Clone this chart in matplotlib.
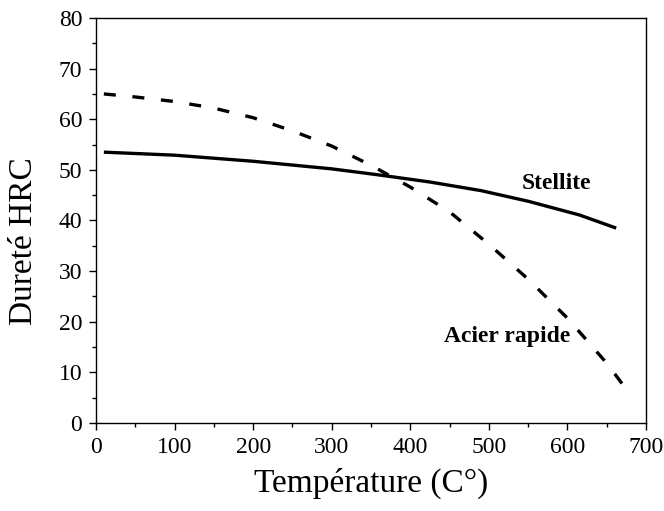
#!/usr/bin/env python3
"""Dureté HRC vs température : stellite vs acier rapide."""
import numpy as np
import matplotlib
matplotlib.use("Agg")
import matplotlib.pyplot as plt
from matplotlib.ticker import MultipleLocator

# Stellite (trait plein)
stellite_t = [10, 100, 200, 300, 360, 425, 490, 550, 615, 662]
stellite_hrc = [53.5, 52.9, 51.7, 50.2, 49.0, 47.6, 45.9, 43.8, 41.1, 38.5]

# Acier rapide (tirets)
acier_t = [10, 50, 100, 150, 200, 250, 300, 350, 400, 450, 500, 550, 600, 650, 680]
acier_hrc = [65.0, 64.4, 63.5, 62.2, 60.3, 57.7, 54.7, 50.9, 46.6, 41.7, 35.3, 28.4, 20.7, 11.8, 5.6]

plt.rcParams["font.family"] = ["Liberation Serif", "DejaVu Serif"]


def main():
    fig = plt.figure(figsize=(6.64, 5.11), dpi=100)
    ax = fig.add_axes([0.1446, 0.1722, 0.8284, 0.7926])

    ax.plot(stellite_t, stellite_hrc, color="black", lw=2.4, solid_capstyle="butt")
    ax.plot(acier_t, acier_hrc, color="black", lw=2.4, linestyle=(0, (3.6, 5.0)),
            dash_capstyle="butt")

    ax.text(586, 47.4, "Stellite", fontsize=17, fontweight="bold", ha="center", va="center")
    ax.text(523, 17.0, "Acier rapide", fontsize=17, fontweight="bold", ha="center", va="center")

    ax.set_xlim(0, 700)
    ax.set_ylim(0, 80)
    ax.xaxis.set_major_locator(MultipleLocator(100))
    ax.xaxis.set_minor_locator(MultipleLocator(50))
    ax.yaxis.set_major_locator(MultipleLocator(10))
    ax.yaxis.set_minor_locator(MultipleLocator(5))
    ax.tick_params(which="major", direction="out", length=5, width=1, labelsize=17, pad=5)
    ax.tick_params(which="minor", direction="out", length=3, width=1)
    for s in ax.spines.values():
        s.set_linewidth(1)

    ax.set_xlabel("Température (C°)", fontsize=24, labelpad=7)
    ax.set_ylabel("Dureté HRC", fontsize=24)
    ax.yaxis.set_label_coords(-0.103, 0.448)

    fig.savefig("out.png", dpi=100, facecolor="white")
    plt.close(fig)


if __name__ == "__main__":
    main()
